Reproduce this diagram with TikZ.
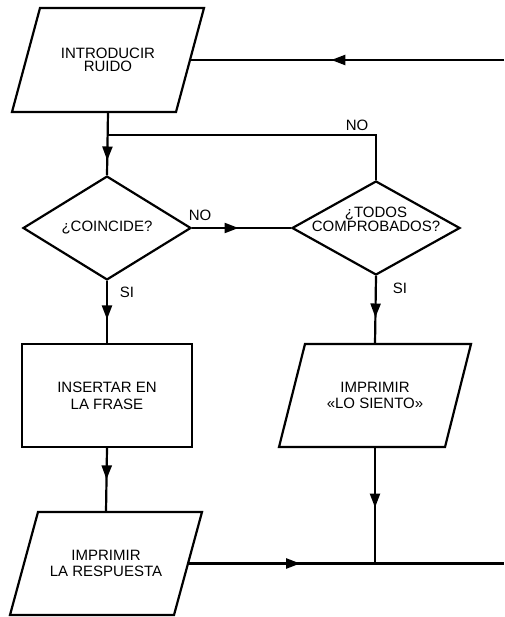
\documentclass[tikz,border=0pt]{standalone}
\usepackage{fontspec}
\setmainfont{Liberation Sans}
\usetikzlibrary{shapes.geometric, arrows.meta, decorations.markings}

\begin{document}
\begin{tikzpicture}[x=1pt, y=-1pt,
  every node/.style={font=\fontsize{15}{16.7}\selectfont},
  wire/.style={line width=2.2pt},
  % input/output boxes: an undrawn rectangle whose side midpoints lie on the slanted sides
  iobox/.style={rectangle, minimum width=164pt, minimum height=103pt,
    align=center, inner sep=0pt, outer sep=0pt},
  ioedge/.style={draw, line width=2.2pt, line join=miter},
  procbox/.style={draw, line width=2.2pt, rectangle, minimum width=170pt,
    minimum height=103pt, align=center},
  testbox/.style={draw, line width=2.2pt, diamond, minimum width=168pt,
    minimum height=94pt, inner sep=0pt, align=center},
  flowtip/.style={postaction={decorate}, decoration={markings,
    mark=at position #1 with {\arrow{Triangle[length=14pt,width=10pt]}}}},
  tag/.style={inner sep=0pt}
]
\useasboundingbox (0,0) rectangle (504,617);

% boxes
\node[iobox, minimum height=104pt, font=\fontsize{15}{13.5}\selectfont] (p1) at (108,60) {INTRODUCIR\\RUIDO};
\draw[ioedge] ([xshift=14pt]p1.north west) -- ([xshift=14pt]p1.north east)
  -- ([xshift=-14pt]p1.south east) -- ([xshift=-14pt]p1.south west) -- cycle;

\node[testbox] (d1) at (107,228) {¿COINCIDE?};
\node[testbox] (d2) at (376,228) {};
\node[align=center, font=\fontsize{15}{14}\selectfont] (d2t) at ([yshift=9pt]d2.center) {¿TODOS\\COMPROBADOS?};

\node[procbox] (r1) at (107,395.5) {INSERTAR EN\\LA FRASE};

\node[iobox] (p2) at (106,563.5) {IMPRIMIR\\LA RESPUESTA};
\draw[ioedge] ([xshift=14pt]p2.north west) -- ([xshift=14pt]p2.north east)
  -- ([xshift=-14pt]p2.south east) -- ([xshift=-14pt]p2.south west) -- cycle;

\node[iobox, minimum width=166pt] (p3) at (375,395.5) {IMPRIMIR\\«LO SIENTO»};
\draw[ioedge] ([xshift=13pt]p3.north west) -- ([xshift=13pt]p3.north east)
  -- ([xshift=-13pt]p3.south east) -- ([xshift=-13pt]p3.south west) -- cycle;

% free ends and corners
\coordinate (eTop) at (504,60);
\coordinate (eBot) at (504,563.5);
\coordinate (loopTR) at (d2.north |- 0,135);
\coordinate (loopTL) at (d1.north |- 0,135);
\coordinate (join) at (p3.south |- eBot);

% connectors
\draw[wire, flowtip=0.55] (eTop) -- (p1.east);
\draw[wire, flowtip=0.77] (p1.south) -- (d1.north);
\draw[wire] (d2.north) -- (loopTR) -- (loopTL);
\draw[wire, flowtip=0.47] (d1.east) -- (d2.west);
\draw[wire, flowtip=0.62] (d1.south) -- (r1.north);
\draw[wire, flowtip=0.61] (d2.south) -- (p3.north);
\draw[wire, flowtip=0.49] (r1.south) -- (p2.north);
\draw[wire, flowtip=0.355] (p2.east) -- (eBot);
\draw[wire, flowtip=0.52] (p3.south) -- (join);

% branch labels
\node[tag] (noA) at (200,215) {NO};
\node[tag] (noB) at (357,125) {NO};
\node[tag] (siA) at (127,292) {SI};
\node[tag] (siB) at (400,288) {SI};
\end{tikzpicture}
\end{document}
